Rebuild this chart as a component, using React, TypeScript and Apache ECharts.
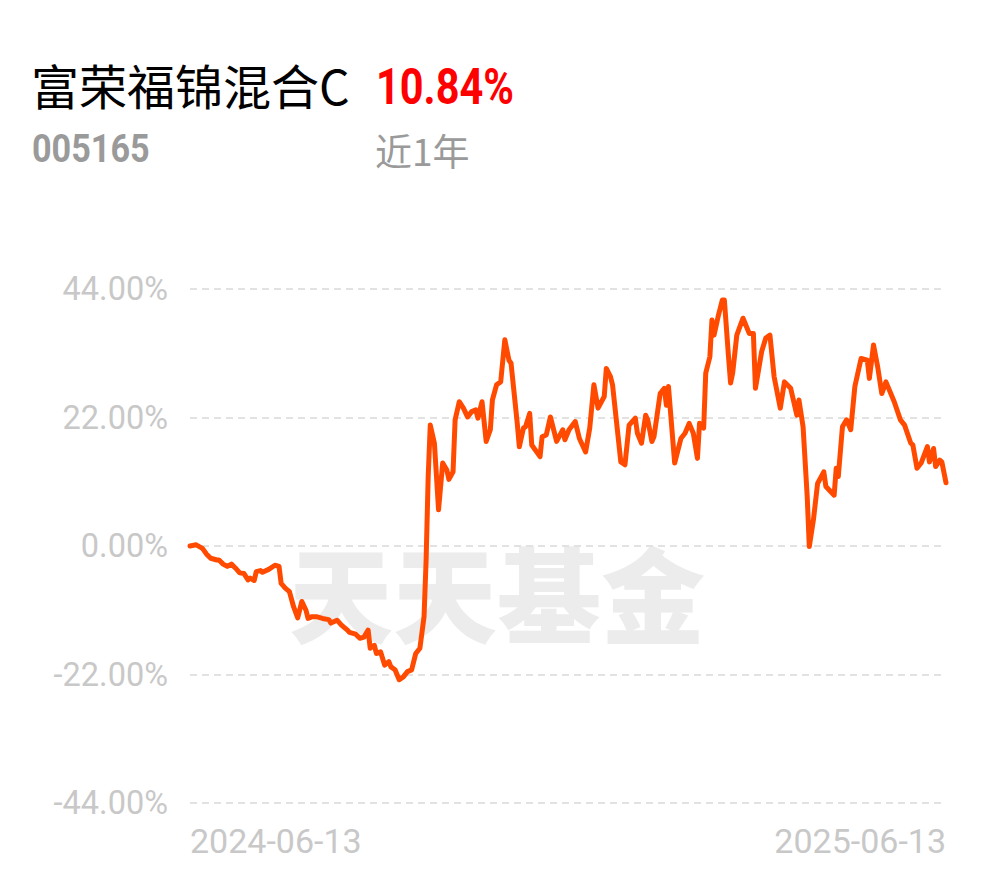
import React, { useEffect, useRef } from 'react';
import * as echarts from 'echarts';

// Fund info
const fundName = '富荣福锦混合C';
const fundCode = '005165';
const periodLabel = '近1年';
const periodReturn = '10.84%';
const startDate = '2024-06-13';
const totalDays = 365;
const watermarkText = '天天基金';

// Y axis ticks (percent)
const yMin = -44;
const yMax = 44;
const yStep = 22;

// Days since 2024-06-13 for each sampled trading day
const dayOffsets = [
  0, 3, 6, 8, 10, 13, 14, 16, 18, 20,
  22, 24, 26, 28, 29, 31, 32, 34, 35, 38,
  41, 43, 44, 46, 48, 50, 52, 54, 56, 57,
  59, 61, 64, 67, 68, 71, 73, 76, 77, 80,
  82, 84, 86, 87, 89, 90, 92, 94, 96, 97,
  99, 101, 103, 105, 107, 108, 109, 111, 113, 114,
  115, 116, 118, 120, 122, 124, 125, 127, 128, 130,
  132, 134, 136, 138, 139, 141, 143, 145, 146, 148,
  150, 152, 154, 155, 158, 159, 161, 162, 164, 165,
  169, 170, 172, 174, 177, 180, 181, 183, 186, 188,
  191, 193, 195, 197, 200, 201, 203, 204, 208, 210,
  212, 215, 216, 218, 220, 221, 223, 224, 227, 229,
  230, 231, 234, 237, 239, 241, 243, 245, 246, 248,
  249, 251, 252, 253, 255, 257, 258, 260, 261, 262,
  264, 267, 270, 272, 273, 276, 278, 280, 282, 285,
  287, 290, 293, 294, 296, 298, 299, 301, 303, 306,
  307, 311, 312, 313, 315, 317, 319, 321, 324, 327,
  328, 330, 332, 334, 336, 340, 343, 345, 348, 349,
  351, 353, 356, 357, 359, 360, 362, 363, 365,
];

// Cumulative return (%)
const returns = [
  0.0, 0.2, -0.4, -1.4, -2.1, -2.4, -2.4, -3.1, -3.5, -3.1,
  -3.8, -4.6, -4.7, -5.8, -5.5, -5.9, -4.4, -4.2, -4.5, -4.0,
  -3.3, -3.5, -6.4, -7.2, -7.8, -10.4, -12.3, -9.5, -11.0, -12.4,
  -12.1, -12.1, -12.4, -12.6, -13.2, -12.7, -13.5, -14.4, -14.8, -15.1,
  -15.8, -15.6, -14.4, -17.5, -17.0, -18.4, -18.1, -20.4, -19.8, -20.7,
  -21.2, -22.9, -22.4, -21.5, -21.2, -19.8, -18.4, -17.5, -12.1, -2.4,
  11.9, 20.7, 17.6, 6.2, 14.2, 13.0, 11.4, 12.7, 21.6, 24.7,
  23.6, 22.1, 23.0, 23.3, 21.9, 24.7, 17.9, 19.9, 25.0, 27.6,
  28.1, 35.3, 31.8, 31.3, 21.0, 17.0, 20.2, 20.4, 22.7, 17.3,
  15.3, 18.7, 19.0, 22.1, 17.9, 19.9, 18.2, 19.9, 21.3, 18.4,
  16.1, 20.2, 27.6, 23.6, 25.6, 30.4, 29.0, 27.6, 14.4, 13.9,
  20.7, 21.9, 19.3, 17.6, 22.4, 21.6, 17.9, 18.7, 26.1, 27.0,
  24.1, 27.3, 14.2, 18.4, 19.3, 21.0, 19.3, 15.0, 21.0, 20.2,
  29.6, 32.4, 38.7, 36.1, 39.3, 42.1, 42.1, 32.4, 27.9, 29.6,
  36.1, 39.0, 36.4, 36.4, 27.0, 33.3, 35.6, 36.1, 29.0, 23.6,
  28.1, 27.0, 22.4, 25.0, 20.4, 8.4, -0.1, 4.5, 10.7, 12.7,
  10.2, 8.7, 13.3, 11.9, 20.4, 21.6, 19.9, 27.3, 32.1, 31.8,
  28.7, 34.4, 30.7, 26.1, 28.1, 24.7, 21.6, 20.7, 17.6, 17.3,
  13.3, 14.2, 17.0, 14.4, 16.7, 13.6, 14.7, 14.4, 10.84,
];

function dateLabel(offset: number): string {
  const [y, m, d] = startDate.split('-').map(Number);
  const t = Date.UTC(y, m - 1, d) + Math.round(offset) * 86400000;
  return new Date(t).toISOString().slice(0, 10);
}

const lineData = dayOffsets.map((d, i) => [d, returns[i]]);

function txt(
  x: number,
  y: number,
  text: string,
  font: string,
  fill: string,
  scaleX = 1,
  align = 'left',
  z = 10
) {
  return {
    type: 'text',
    x,
    y,
    scaleX,
    z,
    silent: true,
    style: {
      text,
      font,
      fill,
      align,
      verticalAlign: 'middle',
      textAlign: align,
      textVerticalAlign: 'middle',
    },
  };
}

export default function App() {
  const ref = useRef<HTMLDivElement>(null);

  useEffect(() => {
    if (!ref.current) return;
    const chart = echarts.init(ref.current, null, { renderer: 'svg' });
    const option: any = {
      animation: false,
      backgroundColor: '#ffffff',
      grid: { left: 190, right: 44, top: 289, bottom: 75, containLabel: false },
      xAxis: {
        type: 'value',
        min: 0,
        max: totalDays,
        interval: totalDays,
        axisLine: { show: false },
        axisTick: { show: false },
        splitLine: { show: false },
        axisLabel: {
          margin: 21,
          color: '#c8c8c8',
          fontSize: 34,
          fontFamily: 'Roboto',
          alignMinLabel: 'left',
          alignMaxLabel: 'right',
          formatter: (v: number) => dateLabel(v),
        },
      },
      yAxis: {
        type: 'value',
        min: yMin,
        max: yMax,
        interval: yStep,
        axisLine: { show: false },
        axisTick: { show: false },
        splitLine: {
          show: true,
          lineStyle: { color: '#e2e2e2', width: 2, type: [7, 5] },
        },
        axisLabel: {
          margin: 22,
          color: '#c8c8c8',
          fontSize: 32.5,
          fontFamily: 'Roboto',
          formatter: (v: number) => v.toFixed(2) + '%',
        },
      },
      series: [
        {
          type: 'line',
          data: lineData,
          showSymbol: false,
          symbol: 'none',
          z: 5,
          lineStyle: { color: '#ff4a00', width: 5, join: 'round', cap: 'round' },
        },
      ],
      graphic: [
        txt(497, 590, watermarkText, '900 104px "Noto Sans CJK SC"', '#ececec', 1, 'center', -1),
        txt(31, 84, fundName, '48px "Noto Sans CJK SC"', '#000000'),
        txt(376, 87, periodReturn, 'bold 50px Roboto', '#ff0000', 0.83),
        txt(32, 149, fundCode, 'bold 38px Roboto', '#9a9a9a', 0.9),
        txt(375, 150, periodLabel, '37px "Noto Sans CJK SC"', '#9a9a9a'),
      ],
    };
    chart.setOption(option);
    return () => chart.dispose();
  }, []);

  return (
    <div
      ref={ref}
      style={{ position: 'absolute', left: 0, top: 0, width: 990, height: 878, background: '#fff' }}
    />
  );
}
